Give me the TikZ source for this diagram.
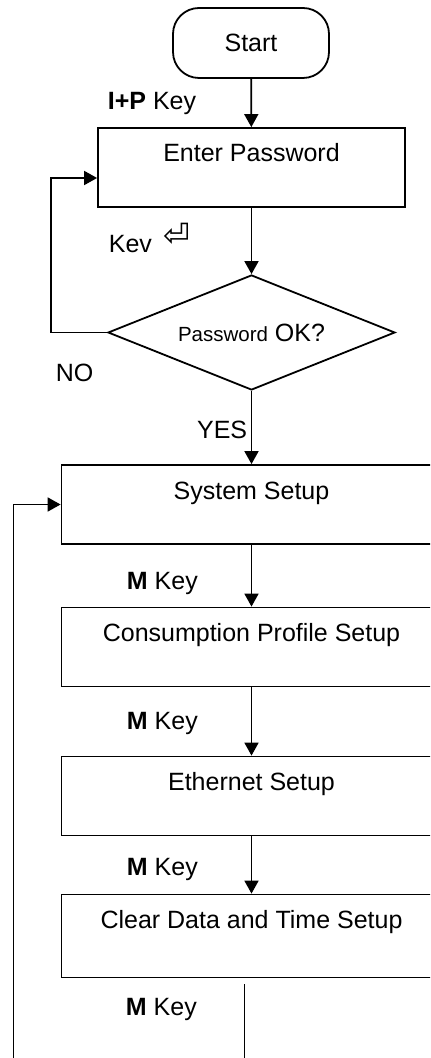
\documentclass[tikz,border=0pt]{standalone}
\usepackage{fontspec}
\setmainfont{Liberation Sans}
\newfontfamily\symfont{DejaVu Sans}
\usetikzlibrary{arrows.meta,shapes.geometric}

\begin{document}
\begin{tikzpicture}[x=0.5pt, y=-0.5pt, >={Triangle[length=6.5pt, width=7pt]},
  font=\fontsize{12.5}{15}\selectfont, line width=0.9pt,
  stepbox/.style={draw, rectangle, inner sep=0pt, text height=17pt, text depth=22.5pt},
  keylabel/.style={anchor=base west, inner sep=0pt}]

\useasboundingbox (0,0) rectangle (430,1058);
\clip (0,0) rectangle (430,1058);

% Define the nodes with coordinates
\node[draw, rectangle, rounded corners=13pt, minimum width=78pt, minimum height=35pt] (start) at (251,43) {Start};
\node[stepbox, minimum width=153.5pt] (ep) at (251.5,167.5) {Enter Password};
\node[draw, diamond, aspect=2.5, inner sep=0pt, minimum width=143.5pt, minimum height=57.5pt] (chk) at (251.5,332.5) {{\fontsize{10.25}{12}\selectfont Password} OK?};
\node[stepbox, minimum width=190pt] (ss) at (251.5,504.5) {System Setup};
\node[stepbox, minimum width=190pt] (cp) at (251.5,647) {Consumption Profile Setup};
\node[stepbox, minimum width=190pt] (es) at (251.5,796) {Ethernet Setup};
\node[stepbox, minimum width=190pt, text depth=24.5pt] (cd) at (251.5,936) {Clear Data and Time Setup};
\coordinate (cdout) at (244.5,984);
\coordinate (cdend) at (244.5,1060);
\coordinate (back) at (13.5,1060);

% Key labels
\node[keylabel] (ipkey) at (107,110) {\textbf{I+P} Key};
\node[keylabel] (kev) at (108,253) {Kev\hspace{6pt}\raisebox{3pt}{\symfont\fontsize{16}{16}\selectfont ⏎}};
\node[keylabel] (no) at (55,382) {NO};
\node[anchor=base east, inner sep=0pt] (yes) at (248,438) {YES};
\node[keylabel] (mkey1) at (126,589) {\textbf{M} Key};
\node[keylabel] (mkey2) at (126,729) {\textbf{M} Key};
\node[keylabel] (mkey3) at (126,875) {\textbf{M} Key};
\node[keylabel] (mkey4) at (125,1015) {\textbf{M} Key};

% Draw the edges
\draw[->] (start) -- (ep);
\draw[->] (ep) -- (chk);
\draw[->] (chk.west) -- ++(-56,0) |- ([yshift=-5.25pt]ep.west);
\draw[->] (chk) -- (ss);
\draw[->] (ss) -- (cp);
\draw[->] (cp) -- (es);
\draw[->] (es) -- (cd);
\draw[line width=0.6pt] (cdout) -- (cdend);
\draw[->] (back) |- (ss.west);

\end{tikzpicture}
\end{document}
